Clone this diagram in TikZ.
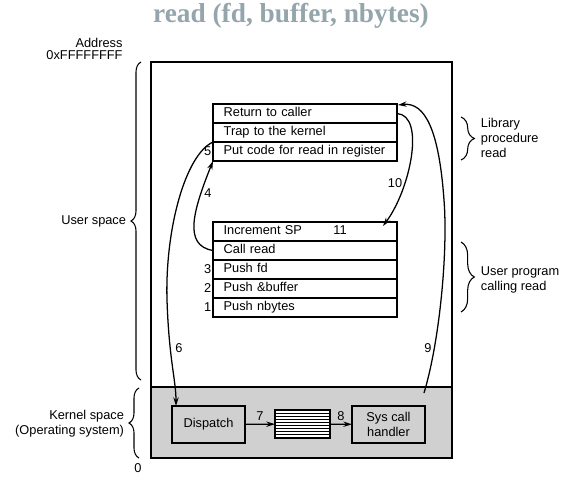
\documentclass[tikz,border=0pt]{standalone}
\usepackage{fontspec}
\setmainfont{Liberation Sans}
\newfontfamily\titlefont{Liberation Serif}
\usetikzlibrary{positioning, calc, arrows.meta, decorations.pathreplacing}
\definecolor{kernelgray}{RGB}{208,208,208}
\definecolor{titlegray}{RGB}{148,165,172}
\begin{document}
\begin{tikzpicture}[x=0.75pt, y=-0.75pt, line width=0.8pt, font=\fontsize{9.6}{11.5}\selectfont,
    rowbox/.style={draw, outer sep=0pt, inner xsep=4pt, inner ysep=0pt, text width=130pt, align=left, minimum height=14.25pt, text height=7pt, text depth=2pt, execute at begin node=\hspace*{4pt}},
    kbox/.style={draw, fill=kernelgray, outer sep=0pt, minimum width=54.75pt, minimum height=27.75pt, align=center},
    num/.style={inner sep=1pt},
    flow/.style={line width=0.95pt, -{Stealth[length=6.5pt, width=4pt]}},
    brc/.style={decorate, decoration={brace, amplitude=#1}}]
    \useasboundingbox (0,0) rectangle (572,478);
    \node[text=titlegray, font=\titlefont\bfseries\fontsize{20.5}{24}\selectfont] (title) at (291,16) {read (fd, buffer, nbytes)};
    \draw[fill=kernelgray] (151,387) rectangle (452,458);
    \draw (151,62) rectangle (452,458);
    \node[rowbox, anchor=north west] (ret) at (213,104) {Return to caller};
    \node[rowbox, below=0pt of ret] (trap) {Trap to the kernel};
    \node[rowbox, below=0pt of trap] (put) {Put code for read in register};
    \node[rowbox, anchor=north west] (inc) at (213,222) {Increment SP};
    \node[rowbox, below=0pt of inc] (callrd) {Call read};
    \node[rowbox, below=0pt of callrd] (pfd) {Push fd};
    \node[rowbox, below=0pt of pfd] (pbuf) {Push \&buffer};
    \node[rowbox, below=0pt of pbuf] (pnb) {Push nbytes};
    \node[kbox] (disp) at (208.5,424.5) {Dispatch};
    \node[kbox, fill=white, minimum width=41.25pt, minimum height=21pt] (queue) at (302.5,424) {};
    \foreach \k in {1,...,8}
        \draw[line width=0.6pt] ($(queue.north west)!\k/9!(queue.south west)$) -- ($(queue.north east)!\k/9!(queue.south east)$);
    \node[kbox] (sys) at (388.5,424.5) {Sys call\\handler};
    \coordinate (k9) at ($(sys.north east)+(-1,-13)$);
    \node[num, left] (n5) at (put.west) {5};
    \node[num, left] (n3) at (pfd.west) {3};
    \node[num, left] (n2) at (pbuf.west) {2};
    \node[num, left] (n1) at (pnb.west) {1};
    \node[num] (n11) at (340,230) {11};
    \node[num] (n4) at (208,193) {4};
    \node[num] (n10) at (395,183) {10};
    \node[num] (n6) at (179,348) {6};
    \node[num] (n9) at (428,348) {9};
    \draw[flow] (disp) -- (queue) node[num, midway, above=1pt] (n7) {7};
    \draw[flow] (queue) -- (sys) node[num, midway, above=1pt] (n8) {8};
    \draw[flow] (callrd.west) .. controls +(-30,-5) and +(-20,50) .. (put.south west);
    \draw[flow] (trap.south west) .. controls (185,155) and (165,230) .. (167,300) .. controls (169,360) and (176,380) .. ($(disp.north west)+(4,0)$);
    \draw[flow] (ret.east) .. controls +(29,2) and +(27,-36) .. ($(inc.north east)+(-14,4)$);
    \draw[flow] (k9) .. controls (440,340) and (448,250) .. (444,200) .. controls (439,130) and (425,102) .. ($(ret.north east)+(1,1)$);
    \draw[brc=7.5pt] (141,380) -- (141,62);
    \draw[brc=7.5pt] (139,458) -- (139,388);
    \draw[brc=10pt] (461,117) -- (461,160);
    \draw[brc=10pt] (461,242) -- (461,312);
    \node[anchor=east] (addr) at (127.5,43) {Address};
    \node[anchor=east] (top) at (127.5,55) {0xFFFFFFFF};
    \node[anchor=east] (uspace) at (131,221) {User space};
    \node[anchor=east, align=right] (kspace) at (129,424) {Kernel space\\(Operating system)};
    \node (zero) at (138,468) {0};
    \node[anchor=west, align=left] (lib) at (476,138) {Library\\procedure\\read};
    \node[anchor=west, align=left] (uprog) at (476,280) {User program\\calling read};
\end{tikzpicture}
\end{document}
